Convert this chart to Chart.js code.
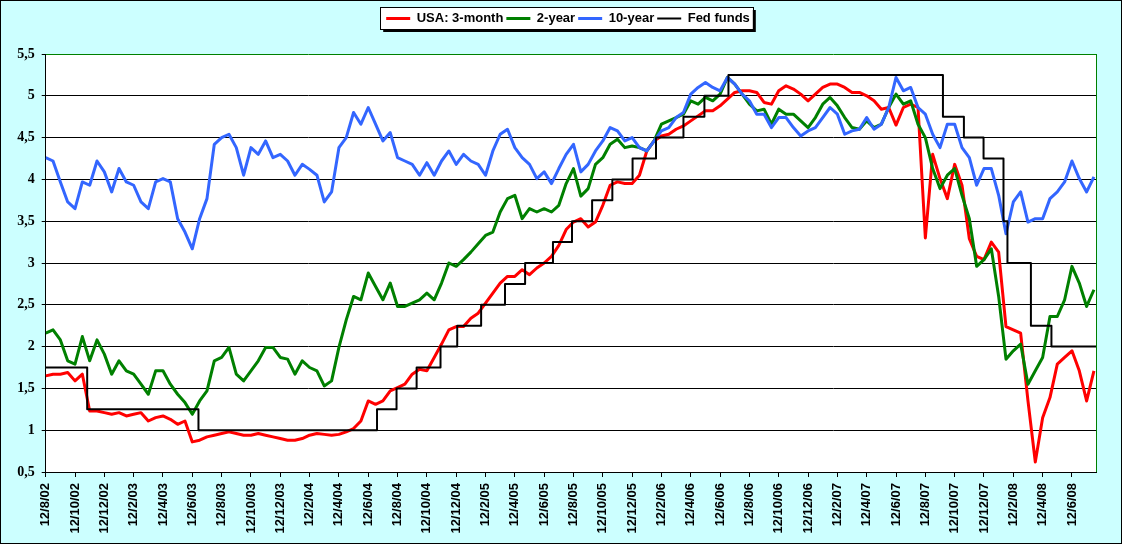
<!DOCTYPE html>
<html>
<head>
<meta charset="utf-8">
<title>USA: 3-month, 2-year, 10-year, Fed funds</title>
<script src="https://cdn.jsdelivr.net/npm/chart.js@4.4.1/dist/chart.umd.min.js"></script>
<style>
  html, body { margin: 0; padding: 0; background: #CCFFFF; }
  #wrap { width: 1122px; height: 544px; }
</style>
</head>
<body>
<div id="wrap"><canvas id="mycanvas" width="1122" height="544"></canvas></div>
<script>
// x axis is in months counted from 12/8/02, one value every half month
var tickLabels = ['12/8/02','12/10/02','12/12/02','12/2/03','12/4/03','12/6/03','12/8/03','12/10/03','12/12/03',
	'12/2/04','12/4/04','12/6/04','12/8/04','12/10/04','12/12/04','12/2/05','12/4/05','12/6/05','12/8/05',
	'12/10/05','12/12/05','12/2/06','12/4/06','12/6/06','12/8/06','12/10/06','12/12/06','12/2/07','12/4/07',
	'12/6/07','12/8/07','12/10/07','12/12/07','12/2/08','12/4/08','12/6/08'];
var lastMonth = 71.64;

var rate3m = [
	1.65,1.67,1.67,1.69,1.59,1.67,1.23,1.23,1.21,1.19,1.21,1.17,
	1.19,1.21,1.11,1.15,1.17,1.13,1.07,1.11,0.86,0.88,0.92,0.94,
	0.96,0.98,0.96,0.94,0.94,0.96,0.94,0.92,0.90,0.88,0.88,0.90,
	0.94,0.96,0.95,0.94,0.95,0.98,1.02,1.11,1.35,1.31,1.35,1.47,
	1.51,1.55,1.67,1.73,1.71,1.87,2.03,2.20,2.24,2.24,2.34,2.40,
	2.52,2.64,2.76,2.84,2.84,2.92,2.86,2.94,3.00,3.08,3.21,3.40,
	3.49,3.53,3.43,3.49,3.69,3.93,3.97,3.95,3.95,4.05,4.34,4.46,
	4.52,4.54,4.60,4.64,4.70,4.76,4.82,4.82,4.88,4.96,5.04,5.06,
	5.06,5.04,4.92,4.90,5.06,5.12,5.08,5.02,4.94,5.02,5.10,5.14,
	5.14,5.10,5.04,5.04,5.00,4.94,4.84,4.86,4.65,4.86,4.90,4.86,
	3.30,4.30,4.01,3.77,4.18,3.93,3.29,3.08,3.04,3.25,3.13,2.24,
	2.20,2.16,1.35,0.62,1.15,1.39,1.79,1.87,1.95,1.71,1.35,1.71
];
var rate2y = [
	2.16,2.20,2.08,1.83,1.79,2.12,1.83,2.08,1.91,1.67,1.83,1.71,
	1.67,1.55,1.43,1.71,1.71,1.55,1.43,1.33,1.19,1.35,1.47,1.83,
	1.87,1.99,1.67,1.59,1.71,1.83,1.99,1.99,1.87,1.85,1.67,1.83,
	1.75,1.71,1.53,1.59,1.99,2.32,2.60,2.56,2.88,2.72,2.56,2.76,
	2.48,2.48,2.52,2.56,2.64,2.56,2.76,3.00,2.96,3.04,3.13,3.23,
	3.33,3.37,3.61,3.77,3.81,3.53,3.65,3.61,3.65,3.61,3.69,3.95,
	4.13,3.80,3.89,4.18,4.26,4.42,4.48,4.38,4.40,4.38,4.34,4.46,
	4.66,4.70,4.74,4.78,4.94,4.90,4.98,4.94,5.02,5.22,5.14,5.02,
	4.90,4.82,4.84,4.66,4.84,4.78,4.78,4.70,4.62,4.74,4.90,4.98,
	4.88,4.74,4.62,4.60,4.70,4.62,4.66,4.86,5.02,4.90,4.94,4.66,
	4.50,4.13,3.89,4.05,4.13,3.81,3.53,2.96,3.04,3.17,2.60,1.85,
	1.95,2.03,1.55,1.71,1.87,2.36,2.36,2.56,2.96,2.76,2.48,2.68
];
var rate10y = [
	4.26,4.22,3.97,3.73,3.65,3.97,3.93,4.22,4.09,3.85,4.13,3.97,
	3.93,3.73,3.65,3.97,4.01,3.97,3.53,3.37,3.17,3.53,3.77,4.42,
	4.50,4.54,4.38,4.05,4.38,4.30,4.46,4.26,4.30,4.22,4.05,4.18,
	4.12,4.05,3.73,3.85,4.38,4.50,4.80,4.66,4.86,4.66,4.46,4.56,
	4.26,4.22,4.18,4.05,4.20,4.05,4.22,4.34,4.18,4.30,4.22,4.18,
	4.05,4.34,4.54,4.60,4.38,4.26,4.18,4.01,4.09,3.95,4.13,4.30,
	4.42,4.09,4.18,4.34,4.46,4.62,4.58,4.46,4.50,4.38,4.34,4.46,
	4.58,4.62,4.74,4.80,5.02,5.10,5.16,5.10,5.06,5.22,5.14,5.02,
	4.94,4.78,4.78,4.62,4.74,4.74,4.62,4.52,4.58,4.62,4.74,4.86,
	4.78,4.54,4.58,4.60,4.74,4.60,4.66,4.86,5.22,5.06,5.10,4.86,
	4.78,4.54,4.38,4.66,4.66,4.38,4.26,3.93,4.13,4.13,3.81,3.35,
	3.73,3.85,3.49,3.53,3.53,3.77,3.85,3.97,4.22,4.01,3.85,4.03
];

// Fed funds target: month of each change and the new rate
var fedMonths = [0, 2.83, 10.42, 22.6, 23.93, 25.3, 26.93, 28.07, 29.7, 31.33, 32.7, 34.6, 35.9, 37.27,
	38.65, 40.03, 41.63, 43.5, 44.93, 46.57, 61.2, 62.63, 63.97, 65.33, 65.6, 67.2, 68.6, 71.64];
var fedRates = [1.75, 1.25, 1.00, 1.25, 1.50, 1.75, 2.00, 2.25, 2.50, 2.75, 3.00, 3.25, 3.50, 3.75,
	4.00, 4.25, 4.50, 4.75, 5.00, 5.25, 4.75, 4.50, 4.25, 3.50, 3.00, 2.25, 2.00, 2.00];

var tickMonths = tickLabels.map(function(l, i) { return i * 2; });

function halfMonthPoints(values) {
	return values.map(function(v, i) { return {x: i / 2, y: v}; });
}

var fedPoints = fedMonths.map(function(m, i) { return {x: m, y: fedRates[i]}; });

var LEGEND_HEIGHT = 45;
var LEGEND_SHIFT = 40;

var excelLook = {
	id: 'excelLook',
	beforeLayout: function(chart) {
		var lg = chart.legend;
		if (lg && !lg._fixedHeight) {
			var fit = lg.fit;
			lg.fit = function() { fit.call(this); this.height = LEGEND_HEIGHT; };
			lg._fixedHeight = true;
		}
	},
	afterLayout: function(chart) {
		// centre the legend a little to the right, as in the original
		chart.legend.left += LEGEND_SHIFT;
		chart.legend.width = chart.legend.right - chart.legend.left;
	},
	beforeDraw: function(chart) {
		var ctx = chart.ctx, a = chart.chartArea;
		ctx.save();
		ctx.fillStyle = '#CCFFFF';
		ctx.fillRect(0, 0, chart.width, chart.height);
		ctx.fillStyle = '#FFFFFF';
		ctx.fillRect(a.left, a.top, a.right - a.left, a.bottom - a.top);

		var boxes = chart.legend.legendHitBoxes;
		if (boxes && boxes.length) {
			var l = boxes[0].left - 6, t = boxes[0].top - 5;
			var last = boxes[boxes.length - 1];
			var r = last.left + last.width + 3, b = boxes[0].top + boxes[0].height + 4;
			ctx.fillStyle = '#000000';
			ctx.fillRect(l + 3, t + 3, r - l, b - t);
			ctx.fillStyle = '#FFFFFF';
			ctx.fillRect(l, t, r - l, b - t);
			ctx.strokeStyle = '#000000';
			ctx.lineWidth = 1;
			ctx.strokeRect(Math.round(l) + 0.5, Math.round(t) + 0.5, Math.round(r - l), Math.round(b - t));
		}
		ctx.restore();
	},
	afterDraw: function(chart) {
		var ctx = chart.ctx, a = chart.chartArea;
		ctx.save();
		ctx.strokeStyle = '#008000';
		ctx.lineWidth = 1;
		ctx.beginPath();
		ctx.moveTo(Math.round(a.right) + 0.5, a.top);
		ctx.lineTo(Math.round(a.right) + 0.5, a.bottom);
		ctx.stroke();
		ctx.strokeStyle = '#000000';
		ctx.strokeRect(0.5, 0.5, chart.width - 1, chart.height - 1);
		ctx.restore();
	}
};

var chartdata = {
	datasets: [
		{
			label: 'USA: 3-month',
			data: halfMonthPoints(rate3m),
			borderColor: '#FF0000',
			backgroundColor: '#FF0000',
			borderWidth: 3,
			order: 4
		},
		{
			label: '2-year',
			data: halfMonthPoints(rate2y),
			borderColor: '#008000',
			backgroundColor: '#008000',
			borderWidth: 3,
			order: 3
		},
		{
			label: '10-year',
			data: halfMonthPoints(rate10y),
			borderColor: '#3366FF',
			backgroundColor: '#3366FF',
			borderWidth: 3,
			order: 2
		},
		{
			label: 'Fed funds',
			data: fedPoints,
			borderColor: '#000000',
			backgroundColor: '#000000',
			borderWidth: 2,
			stepped: true,
			order: 1
		}
	]
};

var ctx = document.getElementById('mycanvas');

var lineGraph = new Chart(ctx, {
	type: 'line',
	data: chartdata,
	plugins: [excelLook],
	options: {
		responsive: false,
		animation: false,
		events: [],
		elements: {
			point: { radius: 0 },
			line: { tension: 0, borderJoinStyle: 'round' }
		},
		layout: { padding: { top: 9, left: 0, right: 26, bottom: 0 } },
		plugins: {
			tooltip: { enabled: false },
			legend: {
				position: 'top',
				reverse: true,
				labels: {
					color: '#000000',
					font: { family: 'Liberation Sans', weight: 'bold', size: 13 },
					usePointStyle: true,
					pointStyle: 'line',
					pointStyleWidth: 24,
					padding: 3
				}
			}
		},
		scales: {
			x: {
				type: 'linear',
				min: 0,
				max: lastMonth,
				afterBuildTicks: function(s) {
					s.ticks = tickMonths.map(function(v) { return {value: v}; });
				},
				afterFit: function(s) { s.height = 72; },
				ticks: {
					autoSkip: false,
					minRotation: 90,
					maxRotation: 90,
					padding: 6,
					color: '#000000',
					font: { family: 'Liberation Sans', weight: 'bold', size: 13 },
					callback: function(v, i) { return tickLabels[i]; }
				},
				grid: {
					drawOnChartArea: false,
					tickLength: 5,
					color: '#000000'
				},
				border: { color: '#000000', width: 1 }
			},
			y: {
				min: 0.5,
				max: 5.5,
				afterFit: function(s) { s.width = 45.7; },
				ticks: {
					stepSize: 0.5,
					padding: 7,
					color: '#000000',
					font: { family: 'Liberation Serif', weight: 'bold', size: 14 },
					callback: function(v) { return String(v).replace('.', ','); }
				},
				grid: {
					tickLength: 4,
					tickColor: '#000000',
					color: function(c) { return c.tick && c.tick.value === 5.5 ? '#008000' : '#000000'; }
				},
				border: { color: '#000000', width: 1 }
			}
		}
	}
});
</script>
</body>
</html>
